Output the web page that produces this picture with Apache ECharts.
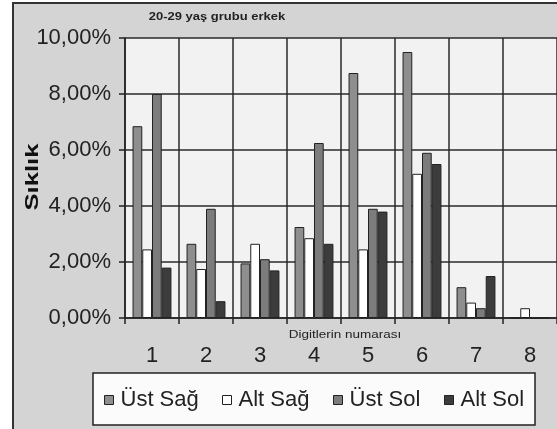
<!DOCTYPE html>
<html><head><meta charset="utf-8">
<script src="https://cdn.jsdelivr.net/npm/echarts@6/dist/echarts.min.js"></script>
<style>html,body{margin:0;padding:0;background:#fff}#c{width:557px;height:429px}</style>
</head><body><div id="c"></div>
<script>
const categories = ['1','2','3','4','5','6','7','8'];
const ustSag = [6.85, 2.65, 1.95, 3.25, 8.75, 9.5, 1.1, 0];
const altSag = [2.45, 1.75, 2.65, 2.85, 2.45, 5.15, 0.55, 0.35];
const ustSol = [8.0, 3.9, 2.1, 6.25, 3.9, 5.9, 0.35, 0];
const altSol = [1.8, 0.6, 1.7, 2.65, 3.8, 5.5, 1.5, 0];
const seriesNames = ['Üst Sağ','Alt Sağ','Üst Sol','Alt Sol'];
const yTicks = [0, 2, 4, 6, 8, 10];

const colors = ['#8e8e8e', '#ffffff', '#7c7c7c', '#3c3c3c'];
const font = 'Liberation Sans, Arial, sans-serif';
const chart = echarts.init(document.getElementById('c'));
const data = [ustSag, altSag, ustSol, altSol];
const legendLefts = [104, 222, 333, 444];

chart.setOption({
  backgroundColor: '#ffffff',
  animation: false,
  graphic: [
    {type:'rect', z:-10, shape:{x:13,y:3,width:560,height:440}, style:{fill:'#d4d4d4', stroke:'#333', lineWidth:2}},
    {type:'rect', z:1, shape:{x:93,y:373,width:442,height:52}, style:{fill:'#fbfbfb', stroke:'#222', lineWidth:1.5}},
    {type:'text', z:5, x:217, y:17, scaleX:1.3, style:{text:'20-29 yaş grubu erkek', font:'bold 10px '+font, fill:'#222', textAlign:'center', textVerticalAlign:'middle'}},
    {type:'text', z:5, x:345, y:335, scaleX:1.35, style:{text:'Digitlerin numarası', font:'10px '+font, fill:'#222', textAlign:'center', textVerticalAlign:'middle'}},
    {type:'text', z:5, x:33, y:177, rotation:Math.PI/2, scaleX:1.35, style:{text:'Sıklık', font:'bold 19px '+font, fill:'#111', textAlign:'center', textVerticalAlign:'middle'}}
  ],
  legend: seriesNames.map((n,i)=>({
    data:[n], left:legendLefts[i], top:389, padding:0, itemWidth:9, itemHeight:9, itemGap:0,
    icon:'rect',
    itemStyle:{borderColor:'#222', borderWidth:1},
    textStyle:{fontFamily:font, fontSize:22, color:'#222', padding:[0,0,0,2]}
  })),
  grid: {left:125, top:38, width:437, height:280, show:true, backgroundColor:'#f2f2f2', borderWidth:0},
  xAxis: {
    type:'category', data:categories,
    axisLine:{show:true, lineStyle:{color:'#222', width:1.5}},
    axisTick:{show:true, length:6, interval:0, lineStyle:{color:'#222', width:1.5}},
    axisLabel:{margin:27, fontFamily:font, fontSize:22, color:'#222', interval:0},
    splitLine:{show:true, interval:0, lineStyle:{color:'#2a2a2a', width:1.5}}
  },
  yAxis: {
    type:'value', min:0, max:10, interval:2,
    axisLine:{show:true, lineStyle:{color:'#222', width:1.5}},
    axisTick:{show:true, length:6, lineStyle:{color:'#222', width:1.5}},
    axisLabel:{margin:14, fontFamily:font, fontSize:22, color:'#222',
      formatter:v=> yTicks.includes(v) ? v.toFixed(2).replace('.',',')+'%' : ''},
    splitLine:{show:true, lineStyle:{color:'#2a2a2a', width:1.5}}
  },
  series: seriesNames.map((n,i)=>({
    name:n, type:'bar', data:data[i], barGap:'0%', barCategoryGap:'28%',
    itemStyle:{color:colors[i], borderColor:'#222', borderWidth:1}
  }))
});
</script></body></html>
